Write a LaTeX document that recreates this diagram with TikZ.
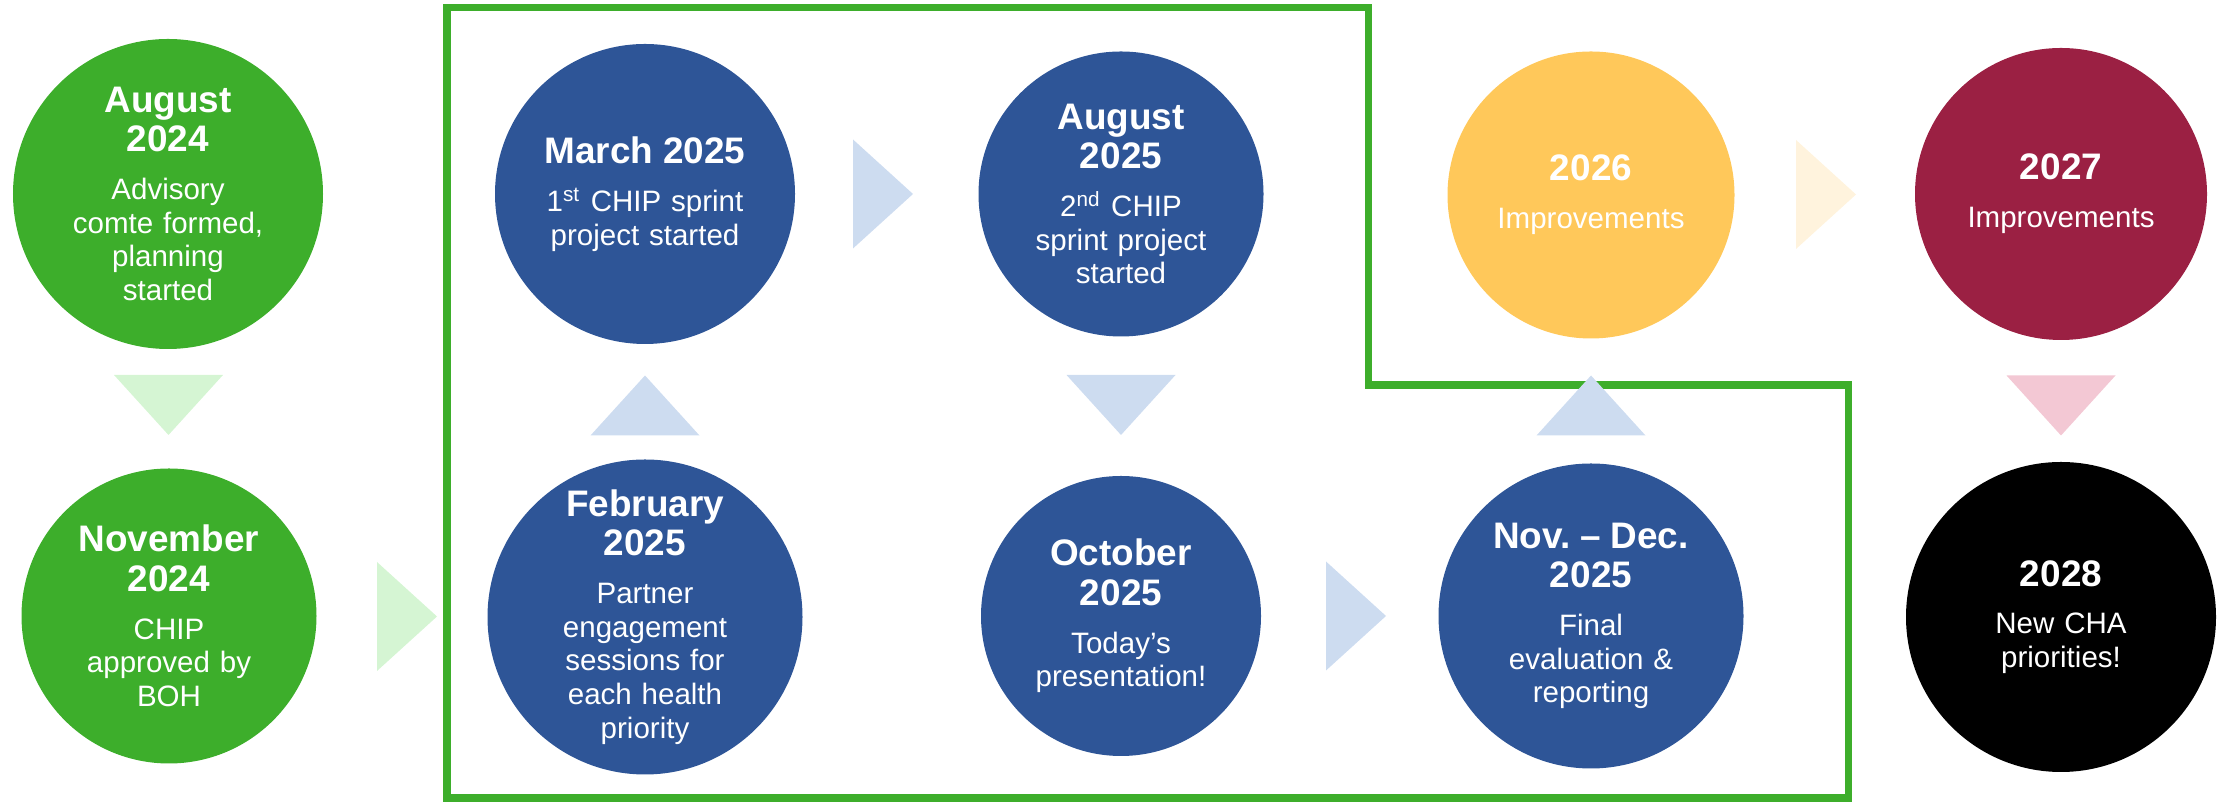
\documentclass[tikz,border=0pt]{standalone}
\usepackage{fontspec}
\setsansfont{Liberation Sans}
\usepackage{xcolor}
\definecolor{chipgreen}{HTML}{3DAE2B}
\definecolor{chipblue}{HTML}{2E5597}
\definecolor{chipgold}{HTML}{FFC85A}
\definecolor{chipwine}{HTML}{9B2043}
\definecolor{palegreen}{HTML}{D5F5D3}
\definecolor{paleblue}{HTML}{CDDCF0}
\definecolor{palegold}{HTML}{FFF3DD}
\definecolor{palewine}{HTML}{F3C8D4}
\usetikzlibrary{calc}

\newcommand{\stagehead}[1]{{\fontsize{10.5}{11.2}\selectfont\bfseries #1\par}\vspace{4pt}}

\begin{document}
\begin{tikzpicture}[
    font=\sffamily,
    stage/.style={
        circle, inner sep=0pt, align=center, text=white,
        font=\sffamily\fontsize{8.4}{9.6}\selectfont,
    },
    pics/chev/.style={
        code={\fill[#1] (-0.3,-0.545) -- (0.3,0) -- (-0.3,0.545) -- cycle;}
    },
]

\useasboundingbox (0,0) rectangle (22.34,8.03);

% -- frame round the sprint year --
\draw[chipgreen, line width=2pt]
    (4.47,7.95) -- (13.68,7.95) -- (13.68,4.18) -- (18.48,4.18)
    -- (18.48,0.05) -- (4.47,0.05) -- cycle;

% -- 2024 --
\node[stage, fill=chipgreen, minimum size=3.1cm, text width=1.95cm] (aug24) at (1.68,6.09) {%
    \stagehead{August\\2024}Advisory\\comte formed,\\planning\\started};
\node[stage, fill=chipgreen, minimum size=2.95cm, text width=1.9cm] (nov24) at (1.69,1.87) {%
    \stagehead{November\\2024}CHIP\\approved by\\BOH};

% -- 2025 --
\node[stage, fill=chipblue, minimum size=3.15cm, text width=1.75cm] (feb25) at (6.45,1.86) {%
    \stagehead{February\\2025}Partner\\engagement\\sessions for\\each health\\priority};
\node[stage, fill=chipblue, minimum size=3.0cm, text width=2.1cm] (mar25) at (6.45,6.09) {%
    \stagehead{March 2025}1\textsuperscript{st} CHIP sprint\\project started};
\node[stage, fill=chipblue, minimum size=2.85cm, text width=1.8cm] (aug25) at (11.21,6.09) {%
    \stagehead{August\\2025}2\textsuperscript{nd} CHIP\\sprint project\\started};
\node[stage, fill=chipblue, minimum size=2.8cm, text width=1.8cm] (oct25) at (11.21,1.87) {%
    \stagehead{October\\2025}Today’s\\presentation!};
\node[stage, fill=chipblue, minimum size=3.05cm, text width=2.1cm] (novdec) at (15.91,1.87) {%
    \stagehead{Nov.\ -- Dec.\\2025}Final\\evaluation \&\\reporting};

% -- later years --
\node[stage, fill=chipgold, minimum size=2.87cm, text width=1.95cm] (y2026) at (15.91,6.08) {%
    \stagehead{2026}Improvements};
\node[stage, fill=chipwine, minimum size=2.92cm, text width=1.95cm] (y2027) at (20.61,6.09) {%
    \stagehead{2027}Improvements};
\node[stage, fill=black, minimum size=3.1cm, text width=1.5cm] (y2028) at (20.61,1.86) {%
    \stagehead{2028}New CHA\\priorities!};

% -- chevrons between stages --
\pic[rotate=-90] at ($(aug24)!0.5!(nov24)$) {chev=palegreen};
\pic at ($(nov24)!0.5!(feb25)$) {chev=palegreen};
\pic[rotate=90] at ($(feb25)!0.5!(mar25)$) {chev=paleblue};
\pic at ($(mar25)!0.5!(aug25)$) {chev=paleblue};
\pic[rotate=-90] at ($(aug25)!0.5!(oct25)$) {chev=paleblue};
\pic at ($(oct25)!0.5!(novdec)$) {chev=paleblue};
\pic[rotate=90] at ($(novdec)!0.5!(y2026)$) {chev=paleblue};
\pic at ($(y2026)!0.5!(y2027)$) {chev=palegold};
\pic[rotate=-90] at ($(y2027)!0.5!(y2028)$) {chev=palewine};

\end{tikzpicture}
\end{document}
